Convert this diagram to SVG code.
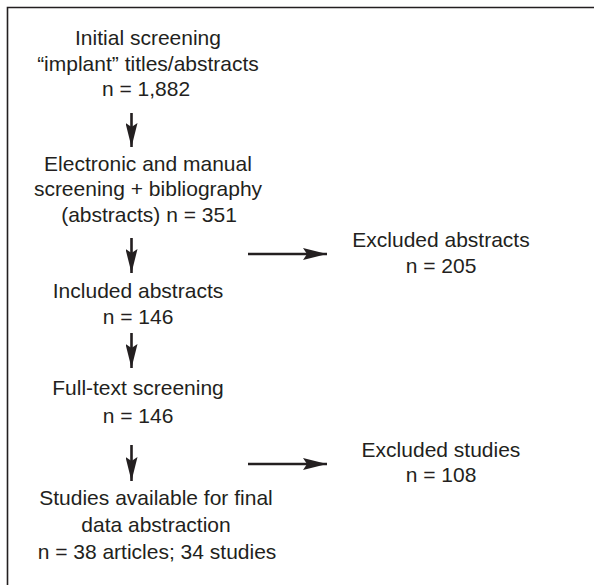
<svg xmlns="http://www.w3.org/2000/svg" width="594" height="585" viewBox="0 0 594 585">
  <style>
    text { font-family: "Liberation Sans", Arial, sans-serif; font-size: 21px; fill: #231f20; text-anchor: middle; }
    .frame { fill: none; stroke: #231f20; stroke-width: 1.6; }
    .conn { fill: none; stroke: #231f20; stroke-width: 2.6; marker-end: url(#head); }
  </style>
  <defs>
    <marker id="head" viewBox="0 0 24 12" refX="24" refY="6" markerWidth="24" markerHeight="12" markerUnits="userSpaceOnUse" orient="auto">
      <path d="M0,0 L24,6 L0,12 L4,6 Z" fill="#231f20"/>
    </marker>
  </defs>
  <rect width="594" height="585" fill="#ffffff"/>
  <path class="frame" d="M7.5,585 L7.5,7.5 L594,7.5"/>

  <g id="initial">
    <text x="148" y="44.5">Initial screening</text>
    <text x="148" y="70.5">“implant” titles/abstracts</text>
    <text x="146" y="96">n = 1,882</text>
  </g>
  <g id="electronic">
    <text x="148" y="170.5">Electronic and manual</text>
    <text x="148" y="195.5">screening + bibliography</text>
    <text x="149" y="221.5">(abstracts) n = 351</text>
  </g>
  <g id="excluded-abstracts">
    <text x="441" y="246.5">Excluded abstracts</text>
    <text x="441" y="273">n = 205</text>
  </g>
  <g id="included">
    <text x="138" y="297.5">Included abstracts</text>
    <text x="138" y="324">n = 146</text>
  </g>
  <g id="fulltext">
    <text x="138" y="395">Full-text screening</text>
    <text x="138" y="423">n = 146</text>
  </g>
  <g id="excluded-studies">
    <text x="441" y="457">Excluded studies</text>
    <text x="441" y="482">n = 108</text>
  </g>
  <g id="final">
    <text x="156" y="505">Studies available for final</text>
    <text x="156" y="532">data abstraction</text>
    <text x="157" y="559">n = 38 articles; 34 studies</text>
  </g>

  <g id="connectors">
    <path class="conn" d="M131.5,113 L131.5,147"/>
    <path class="conn" d="M131.5,238 L131.5,273"/>
    <path class="conn" d="M131.5,333 L131.5,368"/>
    <path class="conn" d="M131.5,445 L131.5,481"/>
    <path class="conn" d="M248,254 L327,254"/>
    <path class="conn" d="M248,464 L327,464"/>
  </g>
</svg>
